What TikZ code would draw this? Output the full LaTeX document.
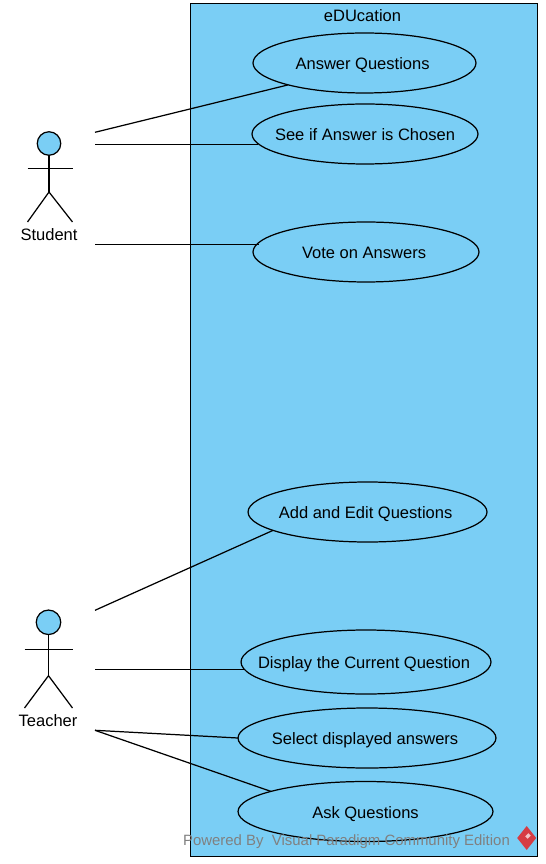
\documentclass[tikz,border=0pt]{standalone}
\usepackage{fontspec}
\setmainfont{Liberation Sans}
\usepackage{xcolor}
\usetikzlibrary{shapes.geometric, positioning}
\definecolor{usecaseblue}{RGB}{122,206,245}
\definecolor{logored}{RGB}{214,60,68}
\newcommand{\casetext}[2][-2.2pt]{\makebox[0pt]{\kern#1\smash{\raisebox{-3.8pt}{#2}}}}

\begin{document}
\begin{tikzpicture}[
    x=0.02cm, y=-0.02cm, line width=0.7pt,
    usecase/.style={ellipse, draw=black, fill=usecaseblue, inner sep=0pt, outer sep=0pt, font=\fontsize{9.4}{11}\selectfont},
    actorhead/.style={circle, draw=black, fill=usecaseblue, inner sep=0pt, outer sep=0pt},
    actorname/.style={inner sep=0pt, font=\fontsize{9.4}{11}\selectfont},
    link/.style={draw=black, line width=0.7pt}
]
    \useasboundingbox (0, 0) rectangle (545, 864);

    % system boundary
    \node[rectangle, draw=black, fill=usecaseblue, inner sep=0pt, outer sep=0pt, minimum width=6.94cm, minimum height=17.07cm] (system) at (364.2, 430) {};
    \node[actorname] (title) at (362.5, 15.5) {eDUcation};

    % use cases
    \node[usecase, minimum width=4.46cm, minimum height=1.2cm] (answer) at (364.5, 63) {\casetext{Answer Questions}};
    \node[usecase, minimum width=4.52cm, minimum height=1.2cm] (seeif) at (365, 134) {\casetext[0pt]{See if Answer is Chosen}};
    \node[usecase, minimum width=4.52cm, minimum height=1.2cm] (vote) at (366, 252) {\casetext{Vote on Answers}};
    \node[usecase, minimum width=4.78cm, minimum height=1.2cm] (addedit) at (367.5, 512) {\casetext{Add and Edit Questions}};
    \node[usecase, minimum width=5cm, minimum height=1.28cm] (display) at (366, 662) {\casetext{Display the Current Question}};
    \node[usecase, minimum width=5.16cm, minimum height=1.2cm] (select) at (367, 738) {\casetext{Select displayed answers}};
    \node[usecase, minimum width=5.1cm, minimum height=1.2cm] (ask) at (365.5, 811.5) {\casetext[0pt]{Ask Questions}};

    % student
    \node[actorhead, minimum size=0.47cm] (studenthead) at (49, 143.5) {};
    \coordinate (studenthip) at (49, 192);
    \coordinate (studentarmL) at (27.5, 168.5);
    \coordinate (studentarmR) at (72.5, 168.5);
    \coordinate (studentfootL) at (27.5, 222);
    \coordinate (studentfootR) at (72.5, 222);
    \draw (studenthead) -- (studenthip);
    \draw (studentarmL) -- (studentarmR);
    \draw (studentfootL) -- (studenthip) -- (studentfootR);
    \node[actorname] (student) at (49, 234.5) {Student};

    % teacher
    \node[actorhead, minimum size=0.49cm] (teacherhead) at (48.5, 622.3) {};
    \coordinate (teacherhip) at (48.5, 675.7);
    \coordinate (teacherarmL) at (24.5, 649.3);
    \coordinate (teacherarmR) at (72.5, 649.3);
    \coordinate (teacherfootL) at (24.5, 708);
    \coordinate (teacherfootR) at (72.5, 708);
    \draw (teacherhead) -- (teacherhip);
    \draw (teacherarmL) -- (teacherarmR);
    \draw (teacherfootL) -- (teacherhip) -- (teacherfootR);
    \node[actorname] (teacher) at (48, 720.5) {Teacher};

    % associations
    \coordinate (studentA) at (95, 132.3);
    \coordinate (studentB) at (95, 144.3);
    \coordinate (studentC) at (95, 244.3);
    \coordinate (teacherA) at (95, 610.3);
    \coordinate (teacherB) at (95, 669.3);
    \coordinate (teacherC) at (95, 730.3);

    \draw[link] (studentA) -- (answer.196.5);
    \draw[link] (studentB) -- (studentB -| seeif.185.4);
    \draw[link] (studentC) -- (studentC -| vote.175.8);
    \draw[link] (teacherA) -- (addedit.191.2);
    \draw[link] (teacherB) -- (teacherB -| display.183.3);
    \draw[link] (teacherC) -- (select.west);
    \draw[link] (teacherC) -- (ask.168.7);

    % footer
    \node[inner sep=0pt, text=black!50, font=\fontsize{8.5}{11}\selectfont] (powered) at (346.5, 841.7) {Powered By\ \ Visual Paradigm Community Edition};
    \node[diamond, fill=logored, inner sep=0pt, outer sep=0pt, minimum width=0.38cm, minimum height=0.48cm] (logo) at (526.7, 838) {};
    \node[rectangle, fill=white!70!logored, inner sep=0pt, minimum width=0.09cm, minimum height=0.07cm, rotate=45] (logomark) at (528, 836) {};
\end{tikzpicture}
\end{document}
